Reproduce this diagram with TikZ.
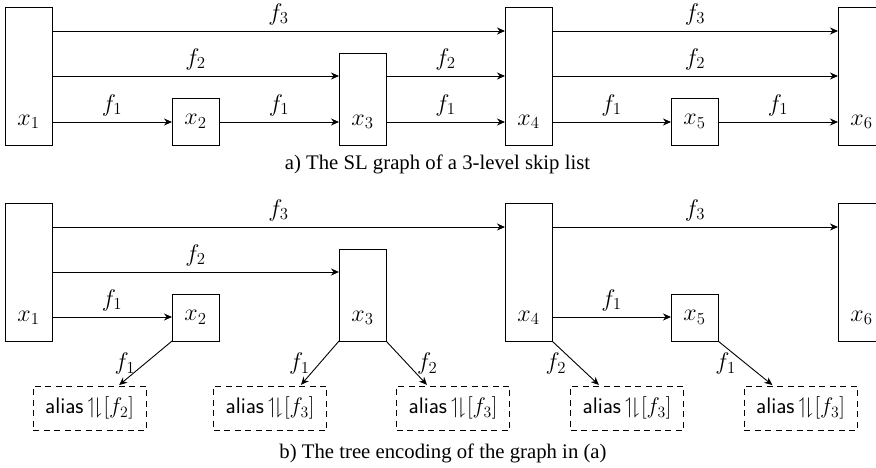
\RequirePackage{fix-cm}
\documentclass[tikz,border=0pt]{standalone}
\usepackage{amssymb}
\usepackage{fontspec}
\setmainfont{Liberation Serif}
\usetikzlibrary{arrows.meta}
\tikzset{
  every node/.style={inner sep=0pt, outer sep=0pt},
  boxnode/.style={draw, line width=0.9pt, minimum width=47pt, inner sep=0pt},
  tallbox/.style={boxnode, minimum height=137.5pt},
  midbox/.style={boxnode, minimum height=92pt},
  smallbox/.style={boxnode, minimum height=47pt, font=\fontsize{24}{27}\selectfont},
  vlab/.style={font=\fontsize{24}{27}\selectfont},
  flab/.style={font=\fontsize{24}{27}\selectfont, above=6pt},
  dlabl/.style={font=\fontsize{24}{27}\selectfont, midway, left=10pt},
  dlabr/.style={font=\fontsize{24}{27}\selectfont, midway, right=10pt},
  arr/.style={-{Stealth[length=8pt,width=7pt]}, line width=0.9pt},
  aliasbox/.style={draw, line width=0.9pt, dash pattern=on 6pt off 4.5pt, minimum width=113pt, minimum height=44pt, font=\fontsize{22.5}{25}\sffamily},
  captext/.style={font=\fontsize{20.74}{24}\selectfont, anchor=base}
}
\newcommand{\aliastext}[1]{alias\,$\upharpoonleft\mkern-3mu\downharpoonright\mkern-4mu[#1]$}
\begin{document}
\begin{tikzpicture}[x=1pt,y=-1pt]
\clip (0,0) rectangle (876,468);
% row coordinates
\coordinate (ta3) at (0,31);
\coordinate (ta2) at (0,76);
\coordinate (ta1) at (0,122);
\coordinate (tb3) at (0,227);
\coordinate (tb2) at (0,272);
\coordinate (tb1) at (0,317);
% ---------- part a ----------
\node[tallbox]  (a1) at (28.5,76.25) {};
\node[smallbox] (a2) at (195.5,121.5) {$x_2$};
\node[midbox]   (a3) at (362.5,99) {};
\node[tallbox]  (a4) at (528.5,76.25) {};
\node[smallbox] (a5) at (694.5,121.5) {$x_5$};
\node[tallbox]  (a6) at (861.5,76.25) {};
\node[vlab] (a1t) at (28.5,122) {$x_1$};
\node[vlab] (a3t) at (362.5,122) {$x_3$};
\node[vlab] (a4t) at (528.5,122) {$x_4$};
\node[vlab] (a6t) at (861.5,122) {$x_6$};
\draw[arr] (a1.east |- ta3) -- node[flab] {$f_3$} (a4.west |- ta3);
\draw[arr] (a4.east |- ta3) -- node[flab] {$f_3$} (a6.west |- ta3);
\draw[arr] (a1.east |- ta2) -- node[flab] {$f_2$} (a3.west |- ta2);
\draw[arr] (a3.east |- ta2) -- node[flab] {$f_2$} (a4.west |- ta2);
\draw[arr] (a4.east |- ta2) -- node[flab] {$f_2$} (a6.west |- ta2);
\draw[arr] (a1.east |- ta1) -- node[flab] {$f_1$} (a2.west |- ta1);
\draw[arr] (a2.east |- ta1) -- node[flab] {$f_1$} (a3.west |- ta1);
\draw[arr] (a3.east |- ta1) -- node[flab] {$f_1$} (a4.west |- ta1);
\draw[arr] (a4.east |- ta1) -- node[flab] {$f_1$} (a5.west |- ta1);
\draw[arr] (a5.east |- ta1) -- node[flab] {$f_1$} (a6.west |- ta1);
\node[captext] (capa) at (437.5,170) {a) The SL graph of a 3-level skip list};
% ---------- part b ----------
\node[tallbox]  (b1) at (28.5,272.25) {};
\node[smallbox] (b2) at (195.5,317.5) {$x_2$};
\node[midbox]   (b3) at (362.5,295) {};
\node[tallbox]  (b4) at (528.5,272.25) {};
\node[smallbox] (b5) at (694.5,317.5) {$x_5$};
\node[tallbox]  (b6) at (861.5,272.25) {};
\node[vlab] (b1t) at (28.5,318) {$x_1$};
\node[vlab] (b3t) at (362.5,318) {$x_3$};
\node[vlab] (b4t) at (528.5,318) {$x_4$};
\node[vlab] (b6t) at (861.5,318) {$x_6$};
\draw[arr] (b1.east |- tb3) -- node[flab] {$f_3$} (b4.west |- tb3);
\draw[arr] (b4.east |- tb3) -- node[flab] {$f_3$} (b6.west |- tb3);
\draw[arr] (b1.east |- tb2) -- node[flab] {$f_2$} (b3.west |- tb2);
\draw[arr] (b1.east |- tb1) -- node[flab] {$f_1$} (b2.west |- tb1);
\draw[arr] (b4.east |- tb1) -- node[flab] {$f_1$} (b5.west |- tb1);
% alias boxes
\node[aliasbox] (c1) at (89.5,408) {\aliastext{f_2}};
\node[aliasbox] (c2) at (270,408) {\aliastext{f_3}};
\node[aliasbox] (c3) at (453,408) {\aliastext{f_3}};
\node[aliasbox] (c4) at (627,408) {\aliastext{f_3}};
\node[aliasbox] (c5) at (800.5,408) {\aliastext{f_3}};
\draw[arr, shorten >=1.5pt] (b2.south west) -- node[dlabl] {$f_1$} ([xshift=28.5pt]c1.north);
\draw[arr, shorten >=1.5pt] (b3.south west) -- node[dlabl] {$f_1$} ([xshift=30pt]c2.north);
\draw[arr, shorten >=1.5pt] (b3.south east) -- node[dlabr] {$f_2$} ([xshift=-25pt]c3.north);
\draw[arr, shorten >=1.5pt] (b4.south east) -- node[dlabl] {$f_2$} ([xshift=-27pt]c4.north);
\draw[arr, shorten >=1.5pt] (b5.south east) -- node[dlabl] {$f_1$} ([xshift=-27pt]c5.north);
\node[captext] (capb) at (443,458) {b) The tree encoding of the graph in (a)};
\end{tikzpicture}
\end{document}
